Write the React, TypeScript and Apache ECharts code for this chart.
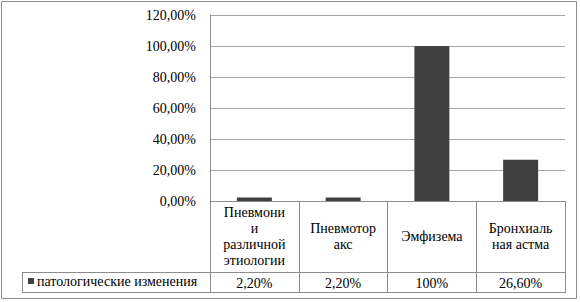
import React, { useEffect, useRef } from "react";
import * as echarts from "echarts";

const categories = [
  "Пневмони\nи\nразличной\nэтиологии",
  "Пневмотор\nакс",
  "Эмфизема",
  "Бронхиаль\nная астма",
];
const seriesName = "патологические изменения";
const values = [2.2, 2.2, 100, 26.6];
const yMin = 0;
const yMax = 120;
const yInterval = 20;

const fmtValue = (v: number) =>
  Number.isInteger(v) ? `${v}%` : `${v.toFixed(2).replace(".", ",")}%`;
const fmtTick = (v: number) => `${v.toFixed(2).replace(".", ",")}%`;

const FONT = "Liberation Serif";
const LINE = "#8c8c8c";

export default function App() {
  const ref = useRef<HTMLDivElement>(null);
  useEffect(() => {
    document.body.style.margin = "0";
    const chart = echarts.init(ref.current!, null, { renderer: "svg" });
    chart.setOption({
      animation: false,
      textStyle: { fontFamily: FONT, color: "#000" },
      grid: { left: 210, top: 15, width: 355, height: 186 },
      legend: {
        left: 28,
        top: 274,
        padding: 0,
        itemWidth: 6,
        itemHeight: 6,
        icon: "rect",
        textStyle: { fontFamily: FONT, fontSize: 14, color: "#000", padding: [0, 0, 0, -2] },
        data: [seriesName],
      },
      xAxis: [
        {
          type: "category",
          data: categories,
          axisLine: { show: true, lineStyle: { color: LINE, width: 1 } },
          axisTick: { show: true, interval: 0, length: 92, lineStyle: { color: LINE, width: 1 } },
          axisLabel: {
            interval: 0,
            margin: 35.5,
            verticalAlign: "middle",
            lineHeight: 16.3,
            fontSize: 14,
            fontFamily: FONT,
            color: "#000",
          },
        },
        {
          type: "category",
          data: values.map(fmtValue),
          position: "bottom",
          offset: 82,
          axisLine: { show: false },
          axisTick: { show: false },
          axisLabel: {
            interval: 0,
            margin: 0,
            verticalAlign: "middle",
            fontSize: 14,
            fontFamily: FONT,
            color: "#000",
          },
        },
      ],
      yAxis: {
        type: "value",
        min: yMin,
        max: yMax,
        interval: yInterval,
        axisLine: { show: true, lineStyle: { color: LINE, width: 1 } },
        axisTick: { show: false },
        splitLine: { lineStyle: { color: "#a6a6a6", width: 1 } },
        axisLabel: {
          formatter: fmtTick,
          margin: 14,
          fontSize: 14,
          fontFamily: FONT,
          color: "#000",
        },
      },
      series: [
        {
          name: seriesName,
          type: "bar",
          xAxisIndex: 0,
          data: values,
          barWidth: 35,
          itemStyle: { color: "#404040" },
        },
      ],
      graphic: [
        {
          type: "rect",
          shape: { x: 1.5, y: 1.5, width: 575, height: 297 },
          style: { fill: "none", stroke: "#8c8c8c", lineWidth: 1 },
          silent: true,
        },
        {
          type: "line",
          shape: { x1: 22, y1: 272.5, x2: 565.5, y2: 272.5 },
          style: { stroke: LINE, lineWidth: 1 },
        },
        {
          type: "line",
          shape: { x1: 22, y1: 292.5, x2: 565.5, y2: 292.5 },
          style: { stroke: LINE, lineWidth: 1 },
        },
        {
          type: "line",
          shape: { x1: 22.5, y1: 272, x2: 22.5, y2: 293 },
          style: { stroke: LINE, lineWidth: 1 },
        },
      ],
    });
    return () => chart.dispose();
  }, []);
  return (
    <div
      ref={ref}
      style={{ width: 580, height: 302, fontFamily: "'Liberation Serif', serif" }}
    />
  );
}
